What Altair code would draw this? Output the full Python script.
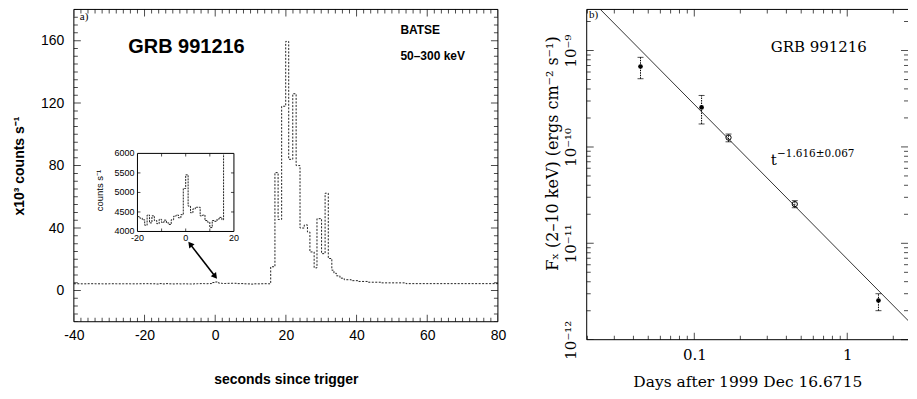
import altair as alt
import pandas as pd

SANS = "Liberation Sans"
SERIF = "DejaVu Serif"

# ---------------- Panel a) BATSE light curve ----------------
# step bins: left edge (s) and rate (x10^3 counts/s)
pre_t = [-40, -38, -36, -34, -32, -30, -28, -26, -24, -22]
pre_rate = [4.32, 4.28, 4.35, 4.30, 4.26, 4.33, 4.29, 4.31, 4.27, 4.34]

inset_t = [-20, -19, -18, -17, -16, -15, -14, -13, -12, -11, -10, -9, -8, -7, -6, -5,
           -4, -3, -2, -1, 0, 1, 2, 3, 4, 5, 6, 7, 8, 9, 10, 11, 12, 13, 14, 15]
inset_counts = [4380, 4340, 4300, 4160, 4420, 4220, 4400, 4280, 4200, 4310, 4230, 4290,
                4220, 4180, 4300, 4390, 4420, 4350, 4430, 5100, 5450, 4650, 4480, 4580,
                4620, 4620, 4400, 4420, 4280, 4240, 4100, 4280, 4260, 4320, 4360, 4300]

burst_t = [15.7, 16.9, 17.8, 18.8, 19.95, 20.8, 21.95, 22.9, 24.0, 25.2, 26.1, 26.8, 28.0,
           28.8, 30.1, 31.1, 32.0, 33.0, 33.6, 34.3, 35.3, 36.5, 38.5, 40.4, 43.3, 47.0,
           54.0, 80.0]
burst_rate = [15.2, 75.5, 45.5, 118, 159.5, 84, 126, 80, 40, 42, 37.5, 24.7, 14.5, 46,
              23.6, 62.3, 20.5, 13, 11, 9.4, 7.9, 6.9, 6.3, 5.8, 5.3, 4.9, 4.4, 4.4]

arrow_t = [-7.1, 0.0]
arrow_rate = [29.7, 9.0]
arrow_angle = [322, 142]

xa_labels = [-40, -20, 0, 20, 40, 60, 80]
ya_labels = [0, 40, 80, 120, 160]
inset_x_labels = [-20, 0, 20]
inset_y_labels = [4000, 4500, 5000, 5500, 6000]
inset_x_ticks = [-10, 0, 10]
inset_y_ticks = [4500, 5000, 5500]

# ---------------- Panel b) X-ray afterglow ----------------
days = [0.0445, 0.1116, 0.1674, 0.454, 1.60]
flux = [6.83e-10, 2.57e-10, 1.25e-10, 2.55e-11, 2.55e-12]
flux_hi = [8.5e-10, 3.42e-10, 1.36e-10, 2.77e-11, 3.0e-12]
flux_lo = [5.1e-10, 1.73e-10, 1.13e-10, 2.34e-11, 2.0e-12]
filled = [True, True, False, False, True]
fit_days = [0.0229, 2.81]
fit_flux = [2.94e-9, 1.31e-12]

# ---------------- layout ----------------
WA, HA = 425, 313
WB, HB = 322, 331
xa_dom = [-40, 80]
ya_dom = [-20, 180]
xb_dom = [0.0198, 2.496]
yb_dom = [1e-12, 2.67e-9]


def px_x(v):
    return (v - xa_dom[0]) / (xa_dom[1] - xa_dom[0]) * WA


def px_y(v):
    return (ya_dom[1] - v) / (ya_dom[1] - ya_dom[0]) * HA


inset_box_t = [-22.0, 5.3]
inset_box_rate = [37.8, 87.8]

dummy = pd.DataFrame({"a": [0]})


def frame(w, h, sides):
    out = []
    base = alt.Chart(dummy).mark_rule(color="black", strokeWidth=1)
    if "top" in sides:
        out.append(base.encode(x=alt.value(0), x2=alt.value(w), y=alt.value(0)))
    if "bottom" in sides:
        out.append(base.encode(x=alt.value(0), x2=alt.value(w), y=alt.value(h)))
    if "left" in sides:
        out.append(base.encode(y=alt.value(0), y2=alt.value(h), x=alt.value(0)))
    if "right" in sides:
        out.append(base.encode(y=alt.value(0), y2=alt.value(h), x=alt.value(w)))
    return out


# ======== Panel a ========
xs_a = alt.Scale(domain=xa_dom, nice=False, zero=False)
ys_a = alt.Scale(domain=ya_dom, nice=False, zero=False)
x_axis_a = alt.Axis(values=xa_labels, title="seconds since trigger", labelExpr="'' + datum.value",
                    labelFont=SANS, labelFontSize=14, labelColor="black", labelPadding=7,
                    titleFont=SANS, titleFontSize=14, titleFontWeight="bold", titleColor="black",
                    titlePadding=30, ticks=False, tickSize=0, domain=False, grid=False,
                    labelOverlap=False, labelFlush=False)
y_axis_a = alt.Axis(values=ya_labels, title="x10³ counts s⁻¹", labelExpr="'' + datum.value",
                    labelFont=SANS, labelFontSize=14, labelColor="black", labelPadding=10,
                    titleFont=SANS, titleFontSize=14, titleFontWeight="bold", titleColor="black",
                    titlePadding=14, ticks=False, tickSize=0, domain=False, grid=False,
                    labelOverlap=False, labelFlush=False)


def XA(f):
    return alt.X(f, type="quantitative", scale=xs_a, axis=x_axis_a)


def YA(f):
    return alt.Y(f, type="quantitative", scale=ys_a, axis=y_axis_a)


lc = pd.DataFrame({"t": pre_t + inset_t + burst_t,
                   "rate": pre_rate + [c / 1000 for c in inset_counts] + burst_rate})
line_a = alt.Chart(lc).mark_line(interpolate="step-after", color="#222", strokeWidth=1,
                                 strokeDash=[2, 1.5]).encode(x=XA("t"), y=YA("rate"))

lx_major = list(range(-40, 81, 20))
lx_minor = [v for v in range(-40, 81, 2) if v % 20]
ly_major = [v for v in range(-20, 181, 5) if v % 40 == 0]
ly_minor = [v for v in range(-20, 181, 5) if v % 40]
xt_a = pd.DataFrame({"v": lx_major + lx_minor, "len": [14] * len(lx_major) + [8] * len(lx_minor)})
yt_a = pd.DataFrame({"v": ly_major + ly_minor, "len": [14] * len(ly_major) + [8] * len(ly_minor)})

tick_x_a = alt.Chart(xt_a).mark_tick(orient="vertical", clip=True, thickness=1, color="black")
tick_y_a = alt.Chart(yt_a).mark_tick(orient="horizontal", clip=True, thickness=1, color="black")
ticks_a = [
    tick_x_a.encode(x=XA("v"), y=alt.value(0), size=alt.Size("len:Q", scale=None)),
    tick_x_a.encode(x=XA("v"), y=alt.value(HA), size=alt.Size("len:Q", scale=None)),
    tick_y_a.encode(y=YA("v"), x=alt.value(0), size=alt.Size("len:Q", scale=None)),
    tick_y_a.encode(y=YA("v"), x=alt.value(WA), size=alt.Size("len:Q", scale=None)),
]

grb_a = alt.Chart(pd.DataFrame({"t": [-24.6], "rate": [155.7], "label": ["GRB 991216"]})).mark_text(
    font=SANS, fontSize=20, fontWeight="bold", align="left", baseline="middle", color="black"
).encode(x=XA("t"), y=YA("rate"), text="label:N")
batse = alt.Chart(pd.DataFrame({"t": [52.4, 52.4], "rate": [166.6, 150.0],
                                "label": ["BATSE", "50–300 keV"]})).mark_text(
    font=SANS, fontSize=12, fontWeight="bold", align="left", baseline="middle", color="black"
).encode(x=XA("t"), y=YA("rate"), text="label:N")
tag_a = alt.Chart(pd.DataFrame({"t": [-38.3], "rate": [175.3], "label": ["a)"]})).mark_text(
    font="Liberation Serif", fontSize=11, align="left", baseline="middle", color="black"
).encode(x=XA("t"), y=YA("rate"), text="label:N")

arrow_df = pd.DataFrame({"t": arrow_t, "rate": arrow_rate, "ang": arrow_angle})
arrow_line = alt.Chart(arrow_df).mark_line(color="black", strokeWidth=1.6).encode(x=XA("t"), y=YA("rate"))
arrow_heads = alt.Chart(arrow_df).mark_point(shape="triangle-up", filled=True, size=45, opacity=1,
                                             color="black").encode(
    x=XA("t"), y=YA("rate"), angle=alt.Angle("ang:Q", scale=None))

main_a = alt.layer(line_a, *ticks_a, grb_a, batse, tag_a, arrow_line, arrow_heads,
                   *frame(WA, HA, ["top", "bottom", "left", "right"]))

# ---- inset ----
xs_in = alt.Scale(domain=[-20, 20], range=[px_x(inset_box_t[0]), px_x(inset_box_t[1])],
                  nice=False, zero=False)
ys_in = alt.Scale(domain=[4000, 6000], range=[px_y(inset_box_rate[0]), px_y(inset_box_rate[1])],
                  nice=False, zero=False, clamp=True)


def XI(f):
    return alt.X(f, type="quantitative", scale=xs_in, axis=None)


def YI(f):
    return alt.Y(f, type="quantitative", scale=ys_in, axis=None)


inset_frame = alt.Chart(pd.DataFrame({"x0": [-20], "x1": [20], "y0": [4000], "y1": [6000]})).mark_rect(
    fill="white", stroke="black", strokeWidth=1).encode(x=XI("x0"), x2="x1", y=YI("y0"), y2="y1")
inset_df = pd.DataFrame({"t": inset_t + [burst_t[0]],
                         "counts": inset_counts + [burst_rate[0] * 1000]})
inset_line = alt.Chart(inset_df).mark_line(interpolate="step-after", color="#222", strokeWidth=1,
                                           strokeDash=[2, 1]).encode(x=XI("t"), y=YI("counts"))
ixt = pd.DataFrame({"v": inset_x_ticks, "top": [6000] * 3, "bot": [4000] * 3})
iyt = pd.DataFrame({"v": inset_y_ticks, "l": [-20] * 3, "r": [20] * 3})
inset_ticks = [
    alt.Chart(ixt).mark_tick(orient="vertical", size=3, thickness=1, yOffset=1.5, color="black").encode(
        x=XI("v"), y=YI("top")),
    alt.Chart(ixt).mark_tick(orient="vertical", size=3, thickness=1, yOffset=-1.5, color="black").encode(
        x=XI("v"), y=YI("bot")),
    alt.Chart(iyt).mark_tick(orient="horizontal", size=3, thickness=1, xOffset=1.5, color="black").encode(
        y=YI("v"), x=XI("l")),
    alt.Chart(iyt).mark_tick(orient="horizontal", size=3, thickness=1, xOffset=-1.5, color="black").encode(
        y=YI("v"), x=XI("r")),
]
ixl = pd.DataFrame({"v": inset_x_labels, "y": [4000] * 3, "lab": [str(v) for v in inset_x_labels]})
iyl = pd.DataFrame({"v": inset_y_labels, "x": [-20] * 5, "lab": [str(v) for v in inset_y_labels]})
inset_xlab = alt.Chart(ixl).mark_text(font=SANS, fontSize=9, baseline="top", dy=3, color="black").encode(
    x=XI("v"), y=YI("y"), text="lab:N")
inset_ylab = alt.Chart(iyl).mark_text(font=SANS, fontSize=9, align="right", baseline="middle", dx=-3,
                                      color="black").encode(x=XI("x"), y=YI("v"), text="lab:N")
inset_title = alt.Chart(pd.DataFrame({"x": [-35.7], "y": [5050], "lab": ["counts s⁻¹"]})).mark_text(
    font=SANS, fontSize=9.5, angle=270, align="center", baseline="middle", color="black").encode(
    x=XI("x"), y=YI("y"), text="lab:N")

inset_a = alt.layer(inset_frame, inset_line, *inset_ticks, inset_xlab, inset_ylab, inset_title)

panel_a = alt.layer(main_a, inset_a).resolve_scale(x="independent", y="independent").properties(
    width=WA, height=HA)

# ======== Panel b ========
xs_b = alt.Scale(type="log", domain=xb_dom, nice=False)
ys_b = alt.Scale(type="log", domain=yb_dom, nice=False)
x_axis_b = alt.Axis(values=[0.1, 1], labelExpr="datum.value < 0.5 ? '0.1' : '1'",
                    title="Days after 1999 Dec 16.6715",
                    labelFont=SERIF, labelFontSize=15, labelColor="black", labelPadding=8,
                    titleFont=SERIF, titleFontSize=15.5, titleFontWeight="normal", titleColor="black",
                    titlePadding=12, ticks=False, tickSize=0, domain=False, grid=False,
                    labelOverlap=False, labelFlush=False)
y_axis_b = alt.Axis(values=[1e-12, 1e-11, 1e-10, 1e-9],
                    labelExpr="datum.value > 3e-10 ? '10⁻⁹' : datum.value > 3e-11 ? '10⁻¹⁰' : datum.value > 3e-12 ? '10⁻¹¹' : '10⁻¹²'",
                    title="Fₓ (2–10 keV) (ergs cm⁻² s⁻¹)", labelAngle=270,
                    labelAlign="center", labelBaseline="bottom",
                    labelFont=SERIF, labelFontSize=15, labelColor="black", labelPadding=8,
                    titleFont=SERIF, titleFontSize=16, titleFontWeight="normal", titleColor="black",
                    titlePadding=3, titleY=144, ticks=False, tickSize=0, domain=False, grid=False,
                    labelOverlap=False, labelFlush=False)


def XB(f):
    return alt.X(f, type="quantitative", scale=xs_b, axis=x_axis_b)


def YB(f):
    return alt.Y(f, type="quantitative", scale=ys_b, axis=y_axis_b)


fit = alt.Chart(pd.DataFrame({"d": fit_days, "f": fit_flux})).mark_line(
    clip=True, color="#333", strokeWidth=1).encode(x=XB("d"), y=YB("f"))

pts = pd.DataFrame({"d": days, "f": flux, "hi": flux_hi, "lo": flux_lo, "filled": filled})
err = alt.Chart(pts).mark_rule(color="black", strokeWidth=1, strokeDash=[1.5, 1]).encode(
    x=XB("d"), y=YB("lo"), y2="hi")
cap_hi = alt.Chart(pts).mark_tick(orient="horizontal", size=6, thickness=1, color="black").encode(
    x=XB("d"), y=YB("hi"))
cap_lo = alt.Chart(pts).mark_tick(orient="horizontal", size=6, thickness=1, color="black").encode(
    x=XB("d"), y=YB("lo"))
dots = alt.Chart(pts).transform_filter("datum.filled").mark_point(
    shape="circle", filled=True, size=22, color="black", opacity=1).encode(x=XB("d"), y=YB("f"))
rings = alt.Chart(pts).transform_filter("!datum.filled").mark_point(
    shape="circle", filled=False, size=28, color="black", strokeWidth=1, opacity=1).encode(
    x=XB("d"), y=YB("f"))

rx_major = [0.1, 1.0]
rx_minor = [0.02, 0.03, 0.04, 0.05, 0.06, 0.07, 0.08, 0.09,
            0.2, 0.3, 0.4, 0.5, 0.6, 0.7, 0.8, 0.9, 2.0]
ry_major = [1e-12, 1e-11, 1e-10, 1e-9]
ry_minor = [k * 10.0 ** e for e in (-12, -11, -10) for k in range(2, 10)] + [2e-9]
xt_b = pd.DataFrame({"v": rx_major + rx_minor, "len": [14] * len(rx_major) + [8] * len(rx_minor)})
yt_b = pd.DataFrame({"v": ry_major + ry_minor, "len": [14] * len(ry_major) + [8] * len(ry_minor)})
tick_x_b = alt.Chart(xt_b).mark_tick(orient="vertical", clip=True, thickness=1, color="black")
tick_y_b = alt.Chart(yt_b).mark_tick(orient="horizontal", clip=True, thickness=1, color="black")
ticks_b = [
    tick_x_b.encode(x=XB("v"), y=alt.value(0), size=alt.Size("len:Q", scale=None)),
    tick_x_b.encode(x=XB("v"), y=alt.value(HB), size=alt.Size("len:Q", scale=None)),
    tick_y_b.encode(y=YB("v"), x=alt.value(0), size=alt.Size("len:Q", scale=None)),
    alt.Chart(pd.DataFrame({"v": ry_major})).mark_tick(
        orient="horizontal", size=7, thickness=1, xOffset=-3.5, color="black").encode(
        y=YB("v"), x=alt.value(WB)),
    alt.Chart(pd.DataFrame({"v": ry_minor})).mark_tick(
        orient="horizontal", size=4, thickness=1, xOffset=-2, color="black").encode(
        y=YB("v"), x=alt.value(WB)),
]

grb_b = alt.Chart(pd.DataFrame({"d": [0.316], "f": [1.08e-9], "lab": ["GRB 991216"]})).mark_text(
    font=SERIF, fontSize=15, align="left", baseline="middle", color="black").encode(
    x=XB("d"), y=YB("f"), text="lab:N")
t_b = alt.Chart(pd.DataFrame({"d": [0.316], "f": [7.28e-11], "lab": ["t"]})).mark_text(
    font=SERIF, fontSize=15, align="left", baseline="middle", color="black").encode(
    x=XB("d"), y=YB("f"), text="lab:N")
tsup_b = alt.Chart(pd.DataFrame({"d": [0.3475], "f": [8.4e-11], "lab": ["−1.616±0.067"]})).mark_text(
    font=SERIF, fontSize=10.5, align="left", baseline="middle", color="black").encode(
    x=XB("d"), y=YB("f"), text="lab:N")
tag_b = alt.Chart(pd.DataFrame({"d": [0.0205], "f": [2.32e-9], "lab": ["b)"]})).mark_text(
    font="Liberation Serif", fontSize=11, align="left", baseline="middle", color="black").encode(
    x=XB("d"), y=YB("f"), text="lab:N")

panel_b = alt.layer(fit, err, cap_hi, cap_lo, dots, rings, *ticks_b, grb_b, t_b, tsup_b, tag_b,
                    *frame(WB, HB, ["top", "bottom", "left"])).properties(width=WB, height=HB)

chart = alt.hconcat(panel_a, panel_b, spacing=89, bounds="flush").properties(
    padding={"left": 4, "top": 0, "right": 0, "bottom": 0}
).configure_view(stroke="transparent")

chart.save("out.html", embed_options={"renderer": "svg", "actions": False})
